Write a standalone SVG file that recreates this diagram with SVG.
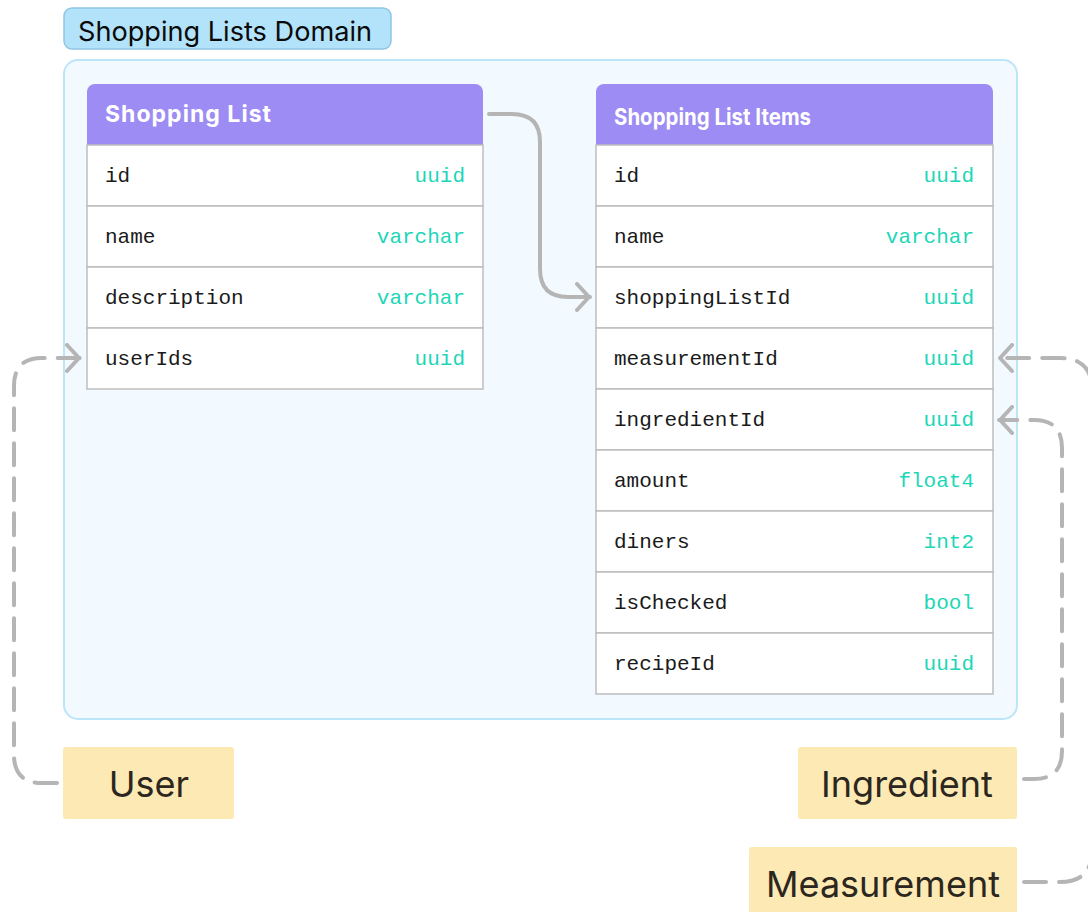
<svg xmlns="http://www.w3.org/2000/svg" width="1088" height="912" viewBox="0 0 1088 912">
<defs>
<style>
.hdr{fill:#9d8cf3}
.row{fill:#ffffff;stroke:#bdbdbd;stroke-width:1.5}
.fn{font-family:"Liberation Mono","DejaVu Sans Mono",monospace;font-size:21px;fill:#1a1a1a}
.ft{font-family:"Liberation Mono","DejaVu Sans Mono",monospace;font-size:21px;fill:#1dd6b8;text-anchor:end}
.ht{font-family:Inter,"Liberation Sans",sans-serif;font-weight:700;font-size:23px;fill:#ffffff}
.ext{fill:#fde9b3}
.et{font-family:Inter,"Liberation Sans",sans-serif;font-size:36px;fill:#2b2720;text-anchor:middle}
.conn{fill:none;stroke:#b5b5b5;stroke-width:4;stroke-linecap:round;stroke-linejoin:round}
.dash{stroke-dasharray:22 13}
</style>
<marker id="arr" viewBox="0 0 16 30" refX="15" refY="15" markerWidth="16" markerHeight="30" markerUnits="userSpaceOnUse" orient="auto">
<path d="M2 2 L14 15 L2 28" fill="none" stroke="#b5b5b5" stroke-width="4" stroke-linecap="round" stroke-linejoin="round"/>
</marker>
</defs>
<rect width="1088" height="912" fill="#ffffff"/>
<g id="domain">
<rect x="64" y="60" width="953" height="659" rx="14" fill="#f2faff" stroke="#bde5f8" stroke-width="2"/>
<rect x="64" y="8" width="327" height="41" rx="8" fill="#b3e3fa" stroke="#8ec6e4" stroke-width="1.5"/>
<text x="78" y="41" font-family="Inter,'Liberation Sans',sans-serif" font-size="27" textLength="294" lengthAdjust="spacingAndGlyphs" fill="#0a0a0a">Shopping Lists Domain</text>
</g>
<g id="shopping-list">
<path class="hdr" d="M87 145 V92 a8 8 0 0 1 8 -8 H475 a8 8 0 0 1 8 8 V145 Z"/>
<text class="ht" x="105" y="122" textLength="166" lengthAdjust="spacing">Shopping List</text>
<rect class="row" x="87" y="145" width="396" height="61"/>
<text class="fn" x="105" y="182">id</text><text class="ft" x="465" y="182">uuid</text>
<rect class="row" x="87" y="206" width="396" height="61"/>
<text class="fn" x="105" y="243">name</text><text class="ft" x="465" y="243">varchar</text>
<rect class="row" x="87" y="267" width="396" height="61"/>
<text class="fn" x="105" y="304">description</text><text class="ft" x="465" y="304">varchar</text>
<rect class="row" x="87" y="328" width="396" height="61"/>
<text class="fn" x="105" y="365">userIds</text><text class="ft" x="465" y="365">uuid</text>
</g>
<g id="shopping-list-items">
<path class="hdr" d="M596 145 V92 a8 8 0 0 1 8 -8 H985 a8 8 0 0 1 8 8 V145 Z"/>
<text class="ht" x="614" y="125" font-size="26" textLength="197" lengthAdjust="spacingAndGlyphs" font-family="Roboto,sans-serif">Shopping List Items</text>
<rect class="row" x="596" y="145" width="397" height="61"/>
<text class="fn" x="614" y="182">id</text><text class="ft" x="974" y="182">uuid</text>
<rect class="row" x="596" y="206" width="397" height="61"/>
<text class="fn" x="614" y="243">name</text><text class="ft" x="974" y="243">varchar</text>
<rect class="row" x="596" y="267" width="397" height="61"/>
<text class="fn" x="614" y="304">shoppingListId</text><text class="ft" x="974" y="304">uuid</text>
<rect class="row" x="596" y="328" width="397" height="61"/>
<text class="fn" x="614" y="365">measurementId</text><text class="ft" x="974" y="365">uuid</text>
<rect class="row" x="596" y="389" width="397" height="61"/>
<text class="fn" x="614" y="426">ingredientId</text><text class="ft" x="974" y="426">uuid</text>
<rect class="row" x="596" y="450" width="397" height="61"/>
<text class="fn" x="614" y="487">amount</text><text class="ft" x="974" y="487">float4</text>
<rect class="row" x="596" y="511" width="397" height="61"/>
<text class="fn" x="614" y="548">diners</text><text class="ft" x="974" y="548">int2</text>
<rect class="row" x="596" y="572" width="397" height="61"/>
<text class="fn" x="614" y="609">isChecked</text><text class="ft" x="974" y="609">bool</text>
<rect class="row" x="596" y="633" width="397" height="61"/>
<text class="fn" x="614" y="670">recipeId</text><text class="ft" x="974" y="670">uuid</text>
</g>
<g id="user">
<rect class="ext" x="63" y="747" width="171" height="72" rx="3"/>
<text class="et" x="149" y="797">User</text>
</g>
<g id="ingredient">
<rect class="ext" x="798" y="747" width="219" height="72" rx="3"/>
<text class="et" x="907" y="797">Ingredient</text>
</g>
<g id="measurement">
<rect class="ext" x="749" y="847" width="268" height="72" rx="3"/>
<text class="et" x="883" y="897">Measurement</text>
</g>
<g id="connectors">
<path class="conn" d="M489 114 H512 Q540 114 540 142 V269 Q540 297 568 297 H590" marker-end="url(#arr)"/>
<path class="conn dash" d="M57 783 H42 Q14 783 14 755 V386 Q14 358 42 358 H80" marker-end="url(#arr)"/>
<path class="conn dash" d="M1024 779 H1034 Q1062 779 1062 751 V448 Q1062 420 1034 420 H999" marker-end="url(#arr)"/>
<path class="conn dash" d="M1024 882 H1060 Q1092 882 1092 850 V390 Q1092 358 1060 358 H999" marker-end="url(#arr)"/>
</g>
</svg>
